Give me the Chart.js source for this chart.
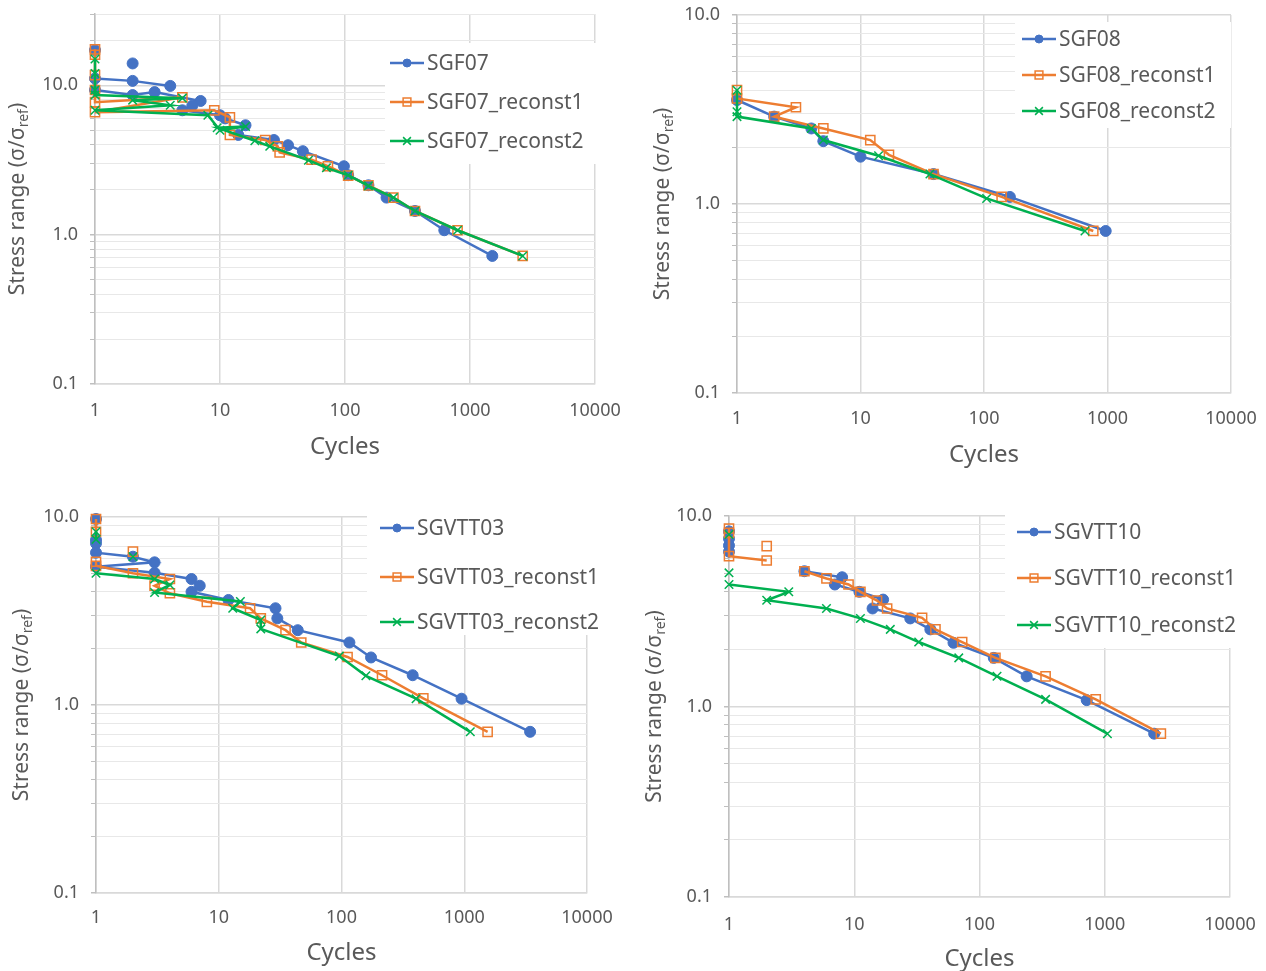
<!DOCTYPE html>
<html>
<head>
<meta charset="utf-8">
<script src="https://cdn.jsdelivr.net/npm/chart.js@4.4.1/dist/chart.umd.min.js"></script>
<style>
  html, body { margin: 0; padding: 0; background: #fff; }
  #page { position: relative; width: 1266px; height: 971px; overflow: hidden; }
  canvas { position: absolute; }
</style>
</head>
<body>
<div id="page">
  <canvas id="c1" width="633" height="470" style="left:0;top:0"></canvas>
  <canvas id="c2" width="633" height="480" style="left:633px;top:0"></canvas>
  <canvas id="c3" width="633" height="481" style="left:0;top:490px"></canvas>
  <canvas id="c4" width="633" height="481" style="left:633px;top:490px"></canvas>
</div>
<script>
const FONT = "'Noto Sans', 'Open Sans', sans-serif"
const TEXT = '#595959'
const BLUE = '#4472C4'
const ORANGE = '#ED7D31'
const GREEN = '#00B050'

// axis ticks
const xTicks = [1, 10, 100, 1000, 10000]
const yDecades = [0.1, 1, 10]

// ===== SGF07 (null = break in the line)
const sgf07Cycles = [1, null, 2, null, 1, 2, 4, null, 1, 2, 3, 7, 6, 5, 10, 11, 16, 14, 27, 35, 46, 98, 106, 154, 215, 363, 623, 1508]
const sgf07Stress = [17.2, null, 14.0, null, 11.1, 10.7, 9.9, null, 9.3, 8.6, 9.0, 7.85, 7.3, 6.8, 6.3, 6.0, 5.4, 4.65, 4.3, 3.97, 3.62, 2.87, 2.5, 2.14, 1.77, 1.44, 1.07, 0.72]
const sgf07r1Cycles = [1, 1, 1, 1, 1, 5, 1, 9, 12, 12, 23, 29, 30, 54, 73, 106, 154, 244, 363, 795, 2640]
const sgf07r1Stress = [17.4, 16.0, 11.7, 9.3, 7.7, 8.3, 6.6, 6.8, 6.1, 4.65, 4.3, 3.9, 3.55, 3.18, 2.87, 2.48, 2.14, 1.77, 1.44, 1.07, 0.72]
const sgf07r2Cycles = [1, 1, 1, 1, 5, 2, 4, 1, 8, 10, 16, 9.5, 19, 25, 51, 71, 106, 154, 244, 363, 795, 2640]
const sgf07r2Stress = [15.0, 12.0, 9.3, 8.6, 8.2, 7.95, 7.35, 6.8, 6.3, 5.0, 5.3, 5.2, 4.25, 3.9, 3.15, 2.8, 2.5, 2.12, 1.77, 1.44, 1.07, 0.72]

// ===== SGF08
const sgf08Cycles = [1, 2, 4, 5, 10, 39, 162, 967]
const sgf08Stress = [3.55, 2.9, 2.51, 2.15, 1.78, 1.44, 1.09, 0.72]
const sgf08r1Cycles = [1, 1, 3, 2, 5, 12, 17, 39, 139, 767]
const sgf08r1Stress = [4.0, 3.62, 3.25, 2.9, 2.51, 2.18, 1.82, 1.44, 1.09, 0.72]
const sgf08r2Cycles = [1, 1, 1, 4, 5, 14, 36.5, 105, 657]
const sgf08r2Stress = [4.0, 3.08, 2.9, 2.51, 2.18, 1.8, 1.44, 1.07, 0.72]

// ===== SGVTT03
const sgvtt03Cycles = [1, 1, 1, 1, 2, 3, 1, 3, 6, 7, 6, 12, 29, 30, 44, 116, 174, 380, 951, 3440]
const sgvtt03Stress = [9.76, 7.55, 7.24, 6.46, 6.15, 5.74, 5.44, 5.05, 4.68, 4.31, 4.0, 3.62, 3.27, 2.89, 2.5, 2.15, 1.79, 1.44, 1.08, 0.72]
const sgvtt03r1Cycles = [1, 1, null, 2, null, 1, 1, 2, 4, 3, 4, 8, 18, 22, 35, 47, 112, 214, 464, 1550]
const sgvtt03r1Stress = [9.76, 8.35, null, 6.54, null, 5.78, 5.5, 5.02, 4.68, 4.31, 3.93, 3.54, 3.27, 2.89, 2.5, 2.15, 1.8, 1.44, 1.085, 0.72]
const sgvtt03r2Cycles = [1, 1, null, 2, null, 1, 3, 4, 3, 15, 13, 22, 22, 96, 158, 405, 1120]
const sgvtt03r2Stress = [8.35, 7.6, null, 6.15, null, 5.02, 4.68, 4.35, 3.97, 3.55, 3.27, 2.83, 2.54, 1.82, 1.43, 1.08, 0.72]

// ===== SGVTT10
const sgvtt10Cycles = [1, 1, 1, 1, null, 4, 8, 7, 11, 17, 14, 28, 40.5, 62, 130, 238, 718, 2480]
const sgvtt10Stress = [8.3, 7.6, 7.0, 6.5, null, 5.13, 4.77, 4.37, 4.0, 3.64, 3.27, 2.9, 2.54, 2.16, 1.8, 1.44, 1.08, 0.72]
const sgvtt10r1Cycles = [1, 1, 1, 2, null, 2, null, 4, 6, 9, 11.2, 15.2, 18.3, 34.8, 44.5, 72.7, 134, 337, 847, 2805]
const sgvtt10r1Stress = [8.6, 8.16, 6.15, 5.84, null, 6.94, null, 5.13, 4.7, 4.37, 4.0, 3.6, 3.27, 2.92, 2.54, 2.18, 1.8, 1.44, 1.09, 0.72]
const sgvtt10r2Cycles = [1, null, 1, null, 1, 3, 2, 6, 11.2, 19.4, 32.7, 68.3, 138, 337, 1050]
const sgvtt10r2Stress = [8.0, null, 5.03, null, 4.37, 4.0, 3.61, 3.27, 2.9, 2.54, 2.18, 1.8, 1.44, 1.09, 0.72]

const looks = [
  { color: BLUE, shape: 'circle', r: 5.5, fill: BLUE, bw: 1, lr: 4 },
  { color: ORANGE, shape: 'rect', r: 6.5, fill: 'rgba(255,255,255,0)', bw: 1.5, lr: 5.5 },
  { color: GREEN, shape: 'crossRot', r: 6, fill: GREEN, bw: 1.5, lr: 5.5 }
]

function pts(xs, ys) {
  return xs.map((x, i) => ({ x: x, y: ys[i] }))
}

function isDecade(v) {
  const l = Math.log10(v)
  return Math.abs(l - Math.round(l)) < 1e-6
}

function makeSet(label, xs, ys, k) {
  const st = looks[k]
  return {
    label: label,
    data: pts(xs, ys),
    showLine: true,
    spanGaps: false,
    borderColor: st.color,
    backgroundColor: st.color,
    borderWidth: 2.5,
    pointStyle: st.shape,
    pointRadius: st.r,
    pointHoverRadius: st.r,
    pointBackgroundColor: st.fill,
    pointBorderColor: st.color,
    pointBorderWidth: st.bw,
    order: 3 - k,
    clip: false,
    look: k
  }
}

function marker(ctx, shape, x, y, r) {
  ctx.beginPath()
  if (shape === 'circle') {
    ctx.arc(x, y, r, 0, Math.PI * 2)
    ctx.fill()
    ctx.stroke()
  } else if (shape === 'rect') {
    const s = r * Math.SQRT1_2
    ctx.rect(x - s, y - s, 2 * s, 2 * s)
    ctx.stroke()
  } else {
    const s = r * Math.SQRT1_2
    ctx.moveTo(x - s, y - s); ctx.lineTo(x + s, y + s)
    ctx.moveTo(x + s, y - s); ctx.lineTo(x - s, y + s)
    ctx.stroke()
  }
}

// legend drawn inside the plot, on a white box, like the original
const boxLegend = {
  id: 'boxLegend',
  afterDraw(chart, args, o) {
    const ctx = chart.ctx
    ctx.save()
    ctx.fillStyle = '#fff'
    ctx.fillRect(o.box[0], o.box[1], o.box[2], o.box[3])
    chart.data.datasets.forEach((ds, i) => {
      const st = looks[ds.look]
      const y = o.rows[i]
      ctx.strokeStyle = st.color
      ctx.lineWidth = 2.5
      ctx.beginPath()
      ctx.moveTo(o.lineX, y)
      ctx.lineTo(o.lineX + 34, y)
      ctx.stroke()
      ctx.fillStyle = st.fill
      ctx.lineWidth = st.bw
      marker(ctx, st.shape, o.lineX + 17, y, st.lr)
      ctx.fillStyle = TEXT
      ctx.font = '21px ' + FONT
      ctx.textBaseline = 'middle'
      ctx.fillText(ds.label, o.lineX + 37, y + 1)
    })
    ctx.restore()
  }
}

// y title with the "ref" subscript
const yTitle = {
  id: 'yTitle',
  afterDraw(chart, args, o) {
    const ctx = chart.ctx
    const a = chart.chartArea
    const main = 'Stress range (σ/σ'
    const sub = 'ref'
    const end = ')'
    ctx.save()
    ctx.fillStyle = TEXT
    ctx.textBaseline = 'middle'
    ctx.font = '21px ' + FONT
    const w1 = ctx.measureText(main).width
    const w3 = ctx.measureText(end).width
    ctx.font = '14px ' + FONT
    const w2 = ctx.measureText(sub).width
    ctx.translate(o.x, (a.top + a.bottom) / 2)
    ctx.rotate(-Math.PI / 2)
    let x = -(w1 + w2 + w3) / 2
    ctx.font = '21px ' + FONT
    ctx.fillText(main, x, 0)
    x += w1
    ctx.font = '14px ' + FONT
    ctx.fillText(sub, x, 6)
    x += w2
    ctx.font = '21px ' + FONT
    ctx.fillText(end, x, 0)
    ctx.restore()
  }
}

// no extra room for overhanging labels, the plot box is fixed by the padding
function noOverhang(s) {
  s.paddingTop = 0
  s.paddingBottom = 0
  s.paddingLeft = 0
  s.paddingRight = 0
}

function drawPanel(p) {
  new Chart(document.getElementById(p.id), {
    type: 'scatter',
    data: { datasets: p.sets },
    plugins: [yTitle, boxLegend],
    options: {
      responsive: false,
      animation: false,
      devicePixelRatio: 1,
      layout: { padding: { top: p.top, right: p.right, left: 0, bottom: 0 } },
      plugins: {
        legend: { display: false },
        tooltip: { enabled: false },
        yTitle: { x: p.titleX },
        boxLegend: p.legend
      },
      scales: {
        x: {
          type: 'logarithmic',
          position: 'bottom',
          min: 1,
          max: 10000,
          afterBuildTicks: s => { s.ticks = xTicks.map(v => ({ value: v })) },
          afterFit: s => { s.height = p.xHeight; noOverhang(s) },
          ticks: {
            autoSkip: false, maxRotation: 0, padding: p.tickPad, color: TEXT,
            font: { family: FONT, size: 18 },
            callback: v => String(v)
          },
          grid: { color: '#d9d9d9', lineWidth: 1.5, drawTicks: false },
          border: { display: true, color: '#d9d9d9', width: 1.5 },
          title: {
            display: true, text: 'Cycles', color: TEXT,
            font: { family: FONT, size: 24, lineHeight: 1 },
            padding: { top: 0, bottom: p.titlePad }
          }
        },
        y: {
          type: 'logarithmic',
          position: 'left',
          min: 0.1,
          max: p.yMax,
          afterBuildTicks: s => {
            const t = []
            yDecades.forEach(d => {
              for (let m = 1; m <= 9; m++) {
                const v = +(m * d).toPrecision(6)
                if (v <= p.yMax * 1.0001) t.push({ value: v })
              }
            })
            s.ticks = t
          },
          afterFit: s => { s.width = p.yWidth; noOverhang(s) },
          ticks: {
            autoSkip: false, padding: 12, color: TEXT,
            font: { family: FONT, size: 18 },
            callback: v => isDecade(v) ? v.toFixed(1) : ''
          },
          grid: {
            color: c => (c.tick && isDecade(c.tick.value)) ? '#d9d9d9' : '#e8e8e8',
            lineWidth: c => (c.tick && isDecade(c.tick.value)) ? 1.5 : 1,
            tickColor: '#bfbfbf',
            tickLength: 5
          },
          border: { display: true, color: '#bfbfbf', width: 1.5 }
        }
      }
    }
  })
}

drawPanel({
  id: 'c1', yMax: 30, top: 14, right: 38, yWidth: 95, xHeight: 86,
  tickPad: 16, titlePad: 11, titleX: 18,
  legend: { box: [385, 43, 212, 121], rows: [63, 102, 141], lineX: 390 },
  sets: [
    makeSet('SGF07', sgf07Cycles, sgf07Stress, 0),
    makeSet('SGF07_reconst1', sgf07r1Cycles, sgf07r1Stress, 1),
    makeSet('SGF07_reconst2', sgf07r2Cycles, sgf07r2Stress, 2)
  ]
})

drawPanel({
  id: 'c2', yMax: 10, top: 15, right: 35, yWidth: 104, xHeight: 87,
  tickPad: 15, titlePad: 13, titleX: 30,
  legend: { box: [382, 22, 216, 106], rows: [39, 75, 111], lineX: 389 },
  sets: [
    makeSet('SGF08', sgf08Cycles, sgf08Stress, 0),
    makeSet('SGF08_reconst1', sgf08r1Cycles, sgf08r1Stress, 1),
    makeSet('SGF08_reconst2', sgf08r2Cycles, sgf08r2Stress, 2)
  ]
})

drawPanel({
  id: 'c3', yMax: 10, top: 27, right: 46, yWidth: 96, xHeight: 78,
  tickPad: 14, titlePad: 6, titleX: 22,
  legend: { box: [367, 18, 233, 127], rows: [38, 87, 132], lineX: 380 },
  sets: [
    makeSet('SGVTT03', sgvtt03Cycles, sgvtt03Stress, 0),
    makeSet('SGVTT03_reconst1', sgvtt03r1Cycles, sgvtt03r1Stress, 1),
    makeSet('SGVTT03_reconst2', sgvtt03r2Cycles, sgvtt03r2Stress, 2)
  ]
})

drawPanel({
  id: 'c4', yMax: 10, top: 26, right: 36, yWidth: 96, xHeight: 74,
  tickPad: 17, titlePad: 0, titleX: 22,
  legend: { box: [372, 20, 240, 138], rows: [42, 88, 135], lineX: 384 },
  sets: [
    makeSet('SGVTT10', sgvtt10Cycles, sgvtt10Stress, 0),
    makeSet('SGVTT10_reconst1', sgvtt10r1Cycles, sgvtt10r1Stress, 1),
    makeSet('SGVTT10_reconst2', sgvtt10r2Cycles, sgvtt10r2Stress, 2)
  ]
})
</script>
</body>
</html>
